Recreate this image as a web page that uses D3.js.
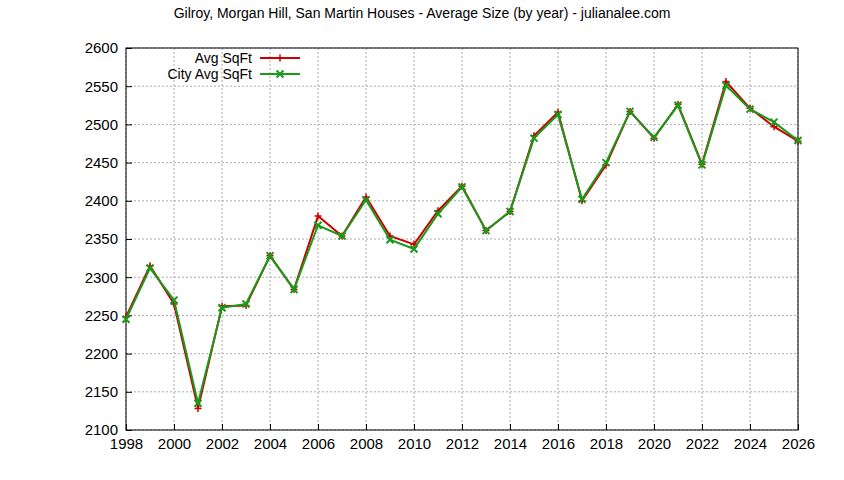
<!DOCTYPE html>
<html><head><meta charset="utf-8">
<script src="https://cdn.jsdelivr.net/npm/d3@7"></script>
<style>body{margin:0;background:#fff}svg{font-family:"Liberation Sans",Arial,sans-serif}</style>
</head><body><svg id="c" width="844" height="480"></svg>
<script>
const years=[1998,1999,2000,2001,2002,2003,2004,2005,2006,2007,2008,2009,2010,2011,2012,2013,2014,2015,2016,2017,2018,2019,2020,2021,2022,2023,2024,2025,2026];
const avgSqFt=[2248,2315,2265,2128,2262,2263,2328,2284,2380,2354,2405,2354,2343,2387,2419,2361,2386,2485,2516,2400,2447,2517,2482,2526,2448,2556,2521,2497,2478];
const cityAvgSqFt=[2245,2312,2270,2135,2260,2265,2328,2284,2368,2354,2401,2349,2337,2383,2418,2361,2386,2482,2513,2402,2450,2517,2483,2525,2447,2551,2520,2503,2479];
const xTicks=d3.range(1998,2027,2);
const yTicks=d3.range(2100,2601,50);
const svg=d3.select("#c");
const L=126,R=798,T=48,B=430;
const x=d3.scaleLinear().domain([1998,2026]).range([L,R]);
const y=d3.scaleLinear().domain([2100,2600]).range([B,T]);
svg.append("text").attr("x",422).attr("y",18).attr("text-anchor","middle").attr("font-size",14).text("Gilroy, Morgan Hill, San Martin Houses - Average Size (by year) - julianalee.com");
const g=svg.append("g");
xTicks.forEach(t=>{g.append("line").attr("x1",x(t)).attr("x2",x(t)).attr("y1",T).attr("y2",B).attr("stroke","#aaa").attr("stroke-dasharray","2,2");});
yTicks.forEach(t=>{g.append("line").attr("x1",L).attr("x2",R).attr("y1",y(t)).attr("y2",y(t)).attr("stroke","#aaa").attr("stroke-dasharray","2,2");});
svg.append("g").attr("transform",`translate(0,${B})`).call(d3.axisBottom(x).tickValues(xTicks).tickFormat(d3.format("d")).tickSize(-6).tickPadding(8)).call(a=>{a.select(".domain").remove();a.selectAll("text").attr("font-size",15).attr("fill","#000");});
svg.append("g").attr("transform",`translate(${L},0)`).call(d3.axisLeft(y).tickValues(yTicks).tickFormat(d3.format("d")).tickSize(-6).tickPadding(8)).call(a=>{a.select(".domain").remove();a.selectAll("text").attr("font-size",15).attr("fill","#000");});
svg.append("rect").attr("x",L).attr("y",T).attr("width",R-L).attr("height",B-T).attr("fill","none").attr("stroke","#000");
const line=d3.line().x((d,i)=>x(years[i])).y(d=>y(d));
function series(vals,col,mk){
  svg.append("path").datum(vals).attr("d",line).attr("fill","none").attr("stroke",col).attr("stroke-width",2);
  vals.forEach((v,i)=>marker(x(years[i]),y(v),col,mk));
}
function marker(cx,cy,col,mk){
  const s=3.5;
  if(mk==="+"){svg.append("path").attr("d",`M${cx-s},${cy}H${cx+s}M${cx},${cy-s}V${cy+s}`).attr("stroke",col).attr("stroke-width",1.5);}
  else{svg.append("path").attr("d",`M${cx-s},${cy-s}L${cx+s},${cy+s}M${cx-s},${cy+s}L${cx+s},${cy-s}`).attr("stroke",col).attr("stroke-width",2);}
}
series(avgSqFt,"#cc0000","+");
series(cityAvgSqFt,"#1a9a1a","x");
[["Avg SqFt","#cc0000","+",58],["City Avg SqFt","#1a9a1a","x",74]].forEach(([t,c,m,yy])=>{
  svg.append("text").attr("x",252).attr("y",yy+5).attr("text-anchor","end").attr("font-size",14).text(t);
  svg.append("line").attr("x1",260).attr("x2",300).attr("y1",yy).attr("y2",yy).attr("stroke",c).attr("stroke-width",2);
  marker(280,yy,c,m);
});
</script></body></html>
